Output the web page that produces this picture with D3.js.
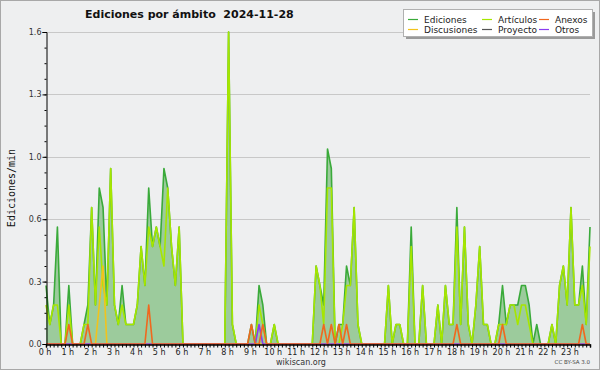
<!DOCTYPE html>
<html>
<head>
<meta charset="utf-8">
<script src="https://cdn.jsdelivr.net/npm/d3@7"></script>
<style>
  body { margin: 0; background: #ffffff; }
  text { font-family: "DejaVu Sans", sans-serif; }
</style>
</head>
<body>
<div class="chart"></div>
<script>

// edits per minute, one value per 10 minute slot (144 slots)
var ediciones = [
  0.3, 0.1, 0.2, 0.6, 0, 0, 0.3, 0, 0, 0, 0.1, 0.2,
  0.7, 0.2, 0.8, 0.7, 0.2, 0.9, 0.2, 0.1, 0.3, 0.1, 0.1, 0.1,
  0.2, 0.5, 0.3, 0.8, 0.5, 0.6, 0.5, 0.9, 0.8, 0.5, 0.3, 0.6,
  0, 0, 0, 0, 0, 0, 0, 0, 0, 0, 0, 0,
  1.6, 0.1, 0, 0, 0, 0, 0.1, 0, 0.3, 0.2, 0, 0,
  0.1, 0, 0, 0, 0, 0, 0, 0, 0, 0, 0, 0.4,
  0.3, 0.2, 1.0, 0.9, 0, 0.1, 0.1, 0.4, 0.3, 0.7, 0.1, 0,
  0, 0, 0, 0, 0, 0, 0.3, 0, 0.1, 0.1, 0, 0,
  0.6, 0, 0, 0.3, 0, 0, 0, 0.2, 0, 0.3, 0.1, 0.1,
  0.7, 0.1, 0.6, 0.1, 0, 0.2, 0.5, 0.1, 0.1, 0, 0, 0.1,
  0.3, 0.1, 0.2, 0.2, 0.2, 0.3, 0.3, 0.2, 0, 0.1, 0, 0,
  0, 0.1, 0, 0.3, 0.4, 0.2, 0.7, 0.2, 0.2, 0.4, 0.1, 0.6
];
var articulos = [
  0.2, 0.1, 0.2, 0.2, 0, 0, 0.2, 0, 0, 0, 0.1, 0.1,
  0.7, 0.2, 0.6, 0.3, 0.2, 0.9, 0.2, 0.1, 0.2, 0.1, 0.1, 0.1,
  0.2, 0.5, 0.3, 0.6, 0.5, 0.6, 0.5, 0.4, 0.8, 0.5, 0.3, 0.6,
  0, 0, 0, 0, 0, 0, 0, 0, 0, 0, 0, 0,
  1.6, 0.1, 0, 0, 0, 0, 0, 0, 0.2, 0.1, 0, 0,
  0.1, 0, 0, 0, 0, 0, 0, 0, 0, 0, 0, 0.4,
  0.3, 0.1, 0.8, 0.8, 0, 0, 0.1, 0.3, 0.3, 0.7, 0.1, 0,
  0, 0, 0, 0, 0, 0, 0.3, 0, 0.1, 0.1, 0, 0,
  0.5, 0, 0, 0.3, 0, 0, 0, 0.2, 0, 0.3, 0.1, 0.1,
  0.6, 0.1, 0.6, 0.1, 0, 0.2, 0.5, 0.1, 0.1, 0, 0, 0.1,
  0.1, 0.1, 0.2, 0.2, 0.1, 0.2, 0.2, 0.1, 0, 0, 0, 0,
  0, 0.1, 0, 0.3, 0.4, 0.2, 0.7, 0.2, 0.2, 0.3, 0.1, 0.5
];
var anexos = [
  0, 0, 0, 0, 0, 0, 0.1, 0, 0, 0, 0, 0.1,
  0, 0, 0, 0, 0, 0, 0, 0, 0, 0, 0, 0,
  0, 0, 0, 0.2, 0, 0, 0, 0, 0, 0, 0, 0,
  0, 0, 0, 0, 0, 0, 0, 0, 0, 0, 0, 0,
  0, 0, 0, 0, 0, 0, 0.1, 0, 0, 0.1, 0, 0,
  0, 0, 0, 0, 0, 0, 0, 0, 0, 0, 0, 0,
  0, 0.1, 0, 0.1, 0, 0.1, 0, 0.1, 0, 0, 0, 0,
  0, 0, 0, 0, 0, 0, 0, 0, 0, 0, 0, 0,
  0, 0, 0, 0, 0, 0, 0, 0, 0, 0, 0, 0,
  0.1, 0, 0, 0, 0, 0, 0, 0, 0, 0, 0, 0,
  0.1, 0, 0, 0, 0, 0, 0, 0, 0, 0, 0, 0,
  0, 0, 0, 0, 0, 0, 0, 0, 0, 0.1, 0, 0
];
var discusiones = [
  0, 0, 0, 0, 0, 0, 0, 0, 0, 0, 0, 0,
  0, 0, 0.2, 0.4, 0, 0, 0, 0, 0, 0, 0, 0,
  0, 0, 0, 0, 0, 0, 0, 0, 0, 0, 0, 0,
  0, 0, 0, 0, 0, 0, 0, 0, 0, 0, 0, 0,
  0, 0, 0, 0, 0, 0, 0, 0, 0, 0, 0, 0,
  0, 0, 0, 0, 0, 0, 0, 0, 0, 0, 0, 0,
  0, 0, 0, 0, 0, 0, 0, 0, 0, 0, 0, 0,
  0, 0, 0, 0, 0, 0, 0, 0, 0, 0, 0, 0,
  0, 0, 0, 0, 0, 0, 0, 0, 0, 0, 0, 0,
  0, 0, 0, 0, 0, 0, 0, 0, 0, 0, 0, 0,
  0, 0, 0, 0, 0, 0, 0, 0, 0, 0, 0, 0,
  0, 0, 0, 0, 0, 0, 0, 0, 0, 0, 0, 0
];
var otros = [
  0, 0, 0, 0, 0, 0, 0, 0, 0, 0, 0, 0,
  0, 0, 0, 0, 0, 0, 0, 0, 0, 0, 0, 0,
  0, 0, 0, 0, 0, 0, 0, 0, 0, 0, 0, 0,
  0, 0, 0, 0, 0, 0, 0, 0, 0, 0, 0, 0,
  0, 0, 0, 0, 0, 0, 0, 0, 0.1, 0, 0, 0,
  0, 0, 0, 0, 0, 0, 0, 0, 0, 0, 0, 0,
  0, 0, 0, 0, 0, 0, 0, 0, 0, 0, 0, 0,
  0, 0, 0, 0, 0, 0, 0, 0, 0, 0, 0, 0,
  0, 0, 0, 0, 0, 0, 0, 0, 0, 0, 0, 0,
  0, 0, 0, 0, 0, 0, 0, 0, 0, 0, 0, 0,
  0, 0, 0, 0, 0, 0, 0, 0, 0, 0, 0, 0,
  0, 0, 0, 0, 0, 0, 0, 0, 0, 0, 0, 0
];
// proyecto had no edits that day
var proyecto = [];

// legend order and colours
var seriesNames = ["Ediciones", "Artículos", "Anexos", "Discusiones", "Proyecto", "Otros"];
var seriesColors = ["#3aaa3a", "#a6e600", "#f0681e", "#f2c31c", "#555555", "#8a3cf0"];

// axis labels
var yTicks = [0, 0.32, 0.64, 0.96, 1.28, 1.6];
var hourLabels = ["0 h", "1 h", "2 h", "3 h", "4 h", "5 h", "6 h", "7 h", "8 h", "9 h", "10 h", "11 h",
                  "12 h", "13 h", "14 h", "15 h", "16 h", "17 h", "18 h", "19 h", "20 h", "21 h", "22 h", "23 h"];

var svgWidth = 600,
    svgHeight = 370;
var plotLeft = 46, plotRight = 590, plotTop = 32, plotBottom = 344;

var svg = d3.select(".chart")
            .append("svg")
            .attr("width", svgWidth)
            .attr("height", svgHeight);

// background and frame
svg.append("rect")
   .attr("x", 0.5).attr("y", 0.5)
   .attr("width", svgWidth - 1).attr("height", svgHeight - 1)
   .attr("fill", "#eeeff0")
   .attr("stroke", "#a8a8a8");

// scales: slot index to x, edits/min to y
var xScale = d3.scaleLinear()
    .domain([0, 143])
    .range([plotLeft, plotRight]);

var yScale = d3.scaleLinear()
    .domain([0, 1.6])
    .range([plotBottom, plotTop]);

// horizontal grid lines
svg.append("g")
   .selectAll("line")
   .data(yTicks.slice(1))
   .enter()
   .append("line")
   .attr("x1", plotLeft).attr("x2", plotRight)
   .attr("y1", function(d) { return Math.round(yScale(d)) + 0.5; })
   .attr("y2", function(d) { return Math.round(yScale(d)) + 0.5; })
   .attr("stroke", "#c8c8c8")
   .attr("stroke-width", 1);

// filled area under the total
var area = d3.area()
    .x(function(d, i) { return xScale(i); })
    .y0(yScale(0))
    .y1(function(d) { return yScale(d); });

svg.append("path")
   .datum(ediciones)
   .attr("d", area)
   .attr("fill", "#9ccb9c");

// series lines
var line = d3.line()
    .x(function(d, i) { return xScale(i); })
    .y(function(d) { return yScale(d); });

var drawOrder = [
    { data: ediciones, color: seriesColors[0] },
    { data: articulos, color: seriesColors[1] },
    { data: discusiones, color: seriesColors[3] },
    { data: proyecto, color: seriesColors[4] },
    { data: otros, color: seriesColors[5] },
    { data: anexos, color: seriesColors[2] }
];

drawOrder.forEach(function(s) {
    if (s.data.length == 0) return;
    svg.append("path")
       .datum(s.data)
       .attr("d", line)
       .attr("fill", "none")
       .attr("stroke", s.color)
       .attr("stroke-width", 1.6)
       .attr("stroke-linejoin", "round");
});

// y axis with minor ticks
var yAxis = d3.axisLeft(yScale)
    .tickValues(yTicks)
    .tickSize(4)
    .tickFormat(d3.format(".1f"));

var yAxisG = svg.append("g")
   .attr("transform", "translate(" + (plotLeft + 0.5) + ",0)")
   .call(yAxis);

yAxisG.select(".domain").attr("stroke", "#000");
yAxisG.selectAll("text")
   .attr("font-size", 8)
   .attr("font-family", "DejaVu Sans")
   .attr("fill", "#333")
   .attr("x", -5);

svg.append("g")
   .attr("transform", "translate(" + (plotLeft + 0.5) + ",0)")
   .call(d3.axisLeft(yScale).tickValues(d3.range(0, 1.6, 0.08)).tickSize(2).tickFormat(""))
   .select(".domain").remove();

// x axis, one tick every 10 minutes
var xAxis = d3.axisBottom(xScale)
    .tickValues(d3.range(0, 144))
    .tickSize(3)
    .tickFormat("");

var xAxisG = svg.append("g")
   .attr("transform", "translate(0," + (plotBottom + 0.5) + ")")
   .call(xAxis);
xAxisG.select(".domain").attr("stroke", "#000").attr("stroke-width", 1.5);

// hour labels
svg.append("g")
   .selectAll("text")
   .data(hourLabels)
   .enter()
   .append("text")
   .attr("x", function(d, i) { return xScale(i * 6) - 1; })
   .attr("y", 355)
   .attr("text-anchor", "middle")
   .attr("font-size", 8)
   .attr("fill", "#222")
   .text(function(d) { return d; });

// y axis title
svg.append("text")
   .attr("transform", "translate(15,188) rotate(-90)")
   .attr("text-anchor", "middle")
   .attr("font-size", 10)
   .attr("fill", "#111")
   .style("font-family", "DejaVu Sans Mono")
   .text("Ediciones/min");

// title
svg.append("text")
   .attr("x", 85)
   .attr("y", 18)
   .attr("font-size", 11)
   .attr("font-weight", "bold")
   .attr("fill", "#111")
   .style("white-space", "pre")
   .text("Ediciones por ámbito  2024-11-28");

// footer
svg.append("text")
   .attr("x", 301)
   .attr("y", 365)
   .attr("text-anchor", "middle")
   .attr("font-size", 8)
   .attr("fill", "#333")
   .text("wikiscan.org");

svg.append("text")
   .attr("x", 590)
   .attr("y", 364)
   .attr("text-anchor", "end")
   .attr("font-size", 5.5)
   .attr("fill", "#444")
   .text("CC BY-SA 3.0");

// legend box with shadow
svg.append("rect")
   .attr("x", 406).attr("y", 12)
   .attr("width", 189).attr("height", 27)
   .attr("fill", "#9a9a9a");
svg.append("rect")
   .attr("x", 403.5).attr("y", 9.5)
   .attr("width", 189).attr("height", 27)
   .attr("fill", "#ffffff")
   .attr("stroke", "#b0b0b0");

var legendCols = [408, 482, 539];
var legendRows = [19, 29];

var legend = svg.append("g")
   .selectAll("g")
   .data(seriesNames)
   .enter()
   .append("g")
   .attr("transform", function(d, i) {
       return "translate(" + legendCols[i % 3] + "," + legendRows[Math.floor(i / 3)] + ")";
   });

legend.append("line")
   .attr("x1", 0).attr("x2", 10)
   .attr("y1", 0.5).attr("y2", 0.5)
   .attr("stroke", function(d, i) { return seriesColors[i]; })
   .attr("stroke-width", 1.2);

legend.append("text")
   .attr("x", 16)
   .attr("y", 3.5)
   .attr("font-size", 9)
   .attr("fill", "#222")
   .text(function(d) { return d; });

</script>
</body>
</html>
